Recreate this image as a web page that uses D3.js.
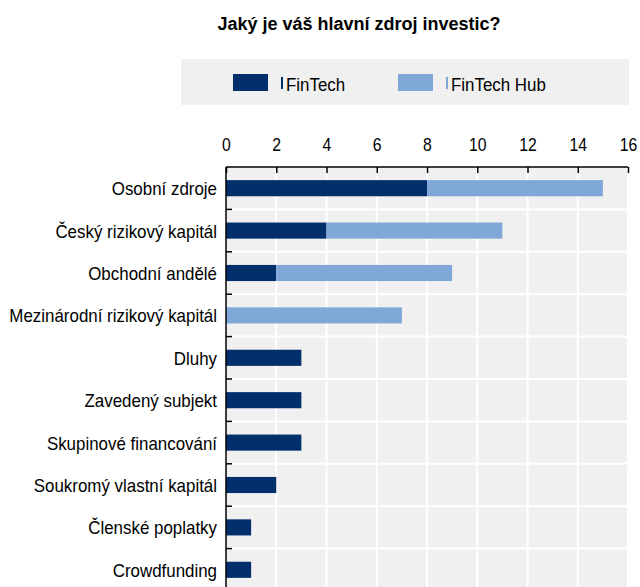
<!DOCTYPE html>
<html>
<head>
<meta charset="utf-8">
<script src="https://cdn.jsdelivr.net/npm/d3@7/dist/d3.min.js"></script>
<style>
  html, body { margin: 0; padding: 0; background: #fff; }
  svg { display: block; }
  text { font-family: "Liberation Sans Narrow", "Arial Narrow", "Liberation Sans", Arial, sans-serif; fill: #000; }
</style>
</head>
<body>
<svg id="chart" width="640" height="587"></svg>
<script>
const title = "Jaký je váš hlavní zdroj investic?";
const categories = [
  "Osobní zdroje",
  "Český rizikový kapitál",
  "Obchodní andělé",
  "Mezinárodní rizikový kapitál",
  "Dluhy",
  "Zavedený subjekt",
  "Skupinové financování",
  "Soukromý vlastní kapitál",
  "Členské poplatky",
  "Crowdfunding"
];
const seriesNames = ["FinTech", "FinTech Hub"];
const fintech = [8, 4, 2, 0, 3, 3, 3, 2, 1, 1];
const fintechHub = [7, 7, 7, 7, 0, 0, 0, 0, 0, 0];
const xTicks = [0, 2, 4, 6, 8, 10, 12, 14, 16];
const colors = ["#002F6C", "#7FA8D9"];

const svg = d3.select("#chart");
const margin = { left: 226, right: 12, top: 167 };
const plotW = 640 - margin.left - margin.right;
const bandH = 42.4;
const plotH = bandH * categories.length;

const x = d3.scaleLinear().domain([0, 16]).range([margin.left, margin.left + plotW]);
const y = d3.scaleBand().domain(categories).range([margin.top, margin.top + plotH])
  .paddingInner(0.62).paddingOuter(0.31).align(0.5);
const yEdges = d3.scaleBand().domain(categories).range([margin.top, margin.top + plotH]);

// Place a horizontally condensed text label at (px, py)
function narrowText(sel, px, py, size, str, anchor, sx) {
  return sel.append("text")
    .attr("transform", `translate(${px},${py}) scale(${sx},1)`)
    .attr("font-size", size)
    .attr("text-anchor", anchor || "start")
    .text(str);
}

// Title
svg.append("text")
  .attr("x", 359).attr("y", 30)
  .attr("text-anchor", "middle")
  .attr("font-size", 18).attr("font-weight", "bold")
  .text(title);

// Legend
const lg = svg.append("g");
lg.append("rect").attr("x", 181).attr("y", 59).attr("width", 448).attr("height", 46).attr("fill", "#f0f0f0");
const legendX = [233, 398];
seriesNames.forEach((name, i) => {
  lg.append("rect").attr("x", legendX[i]).attr("y", 74).attr("width", 35).attr("height", 17).attr("fill", colors[i]);
  lg.append("rect").attr("x", legendX[i] + 48).attr("y", 77).attr("width", 2).attr("height", 12).attr("fill", colors[i]);
  narrowText(lg, legendX[i] + 53, 91, 19, name, "start", 0.89);
});

// Plot background and grid
svg.append("rect")
  .attr("x", margin.left).attr("y", margin.top)
  .attr("width", plotW).attr("height", plotH)
  .attr("fill", "#f0f0f0");

const grid = svg.append("g").attr("stroke", "#fff").attr("stroke-width", 2);
grid.selectAll("line.v").data(xTicks.slice(1)).join("line")
  .attr("x1", d => x(d)).attr("x2", d => x(d))
  .attr("y1", margin.top).attr("y2", margin.top + plotH);
grid.selectAll("line.h").data(categories.slice(1)).join("line")
  .attr("x1", margin.left).attr("x2", margin.left + plotW)
  .attr("y1", d => yEdges(d)).attr("y2", d => yEdges(d));

// Stacked bars
const stackData = categories.map((c, i) => {
  let acc = 0;
  return [fintech[i], fintechHub[i]].map((v, k) => {
    const s = { cat: c, k, x0: acc, x1: acc + v };
    acc += v;
    return s;
  });
}).flat().filter(d => d.x1 > d.x0);

svg.append("g").selectAll("rect").data(stackData).join("rect")
  .attr("x", d => x(d.x0))
  .attr("width", d => x(d.x1) - x(d.x0))
  .attr("y", d => y(d.cat))
  .attr("height", y.bandwidth())
  .attr("fill", d => colors[d.k]);

// Top axis
const xAxis = d3.axisTop(x).tickValues(xTicks).tickSize(-6).tickFormat(() => "");
const gx = svg.append("g").attr("transform", `translate(0,${margin.top})`).call(xAxis);
gx.select(".domain").attr("stroke", "#000").attr("stroke-width", 1.5).attr("d", `M${margin.left},0H${margin.left + plotW}`);
gx.selectAll(".tick line").attr("stroke", "#000").attr("stroke-width", 1.5);
gx.selectAll(".tick").each(function (d) {
  narrowText(d3.select(this), 0, -16, 17.5, d3.format("d")(d), "middle", 0.9);
});

// Left axis
const gy = svg.append("g").attr("transform", `translate(${margin.left},0)`);
gy.append("line").attr("x1", 0).attr("x2", 0).attr("y1", margin.top).attr("y2", margin.top + plotH)
  .attr("stroke", "#000").attr("stroke-width", 1.5);
gy.selectAll("line.t").data(categories.slice(1)).join("line")
  .attr("x1", 0).attr("x2", 6)
  .attr("y1", d => yEdges(d)).attr("y2", d => yEdges(d))
  .attr("stroke", "#000").attr("stroke-width", 1.5);
categories.forEach(c => {
  narrowText(gy, -9, y(c) + y.bandwidth() / 2 + 7, 18, c, "end", 0.94);
});
</script>
</body>
</html>
